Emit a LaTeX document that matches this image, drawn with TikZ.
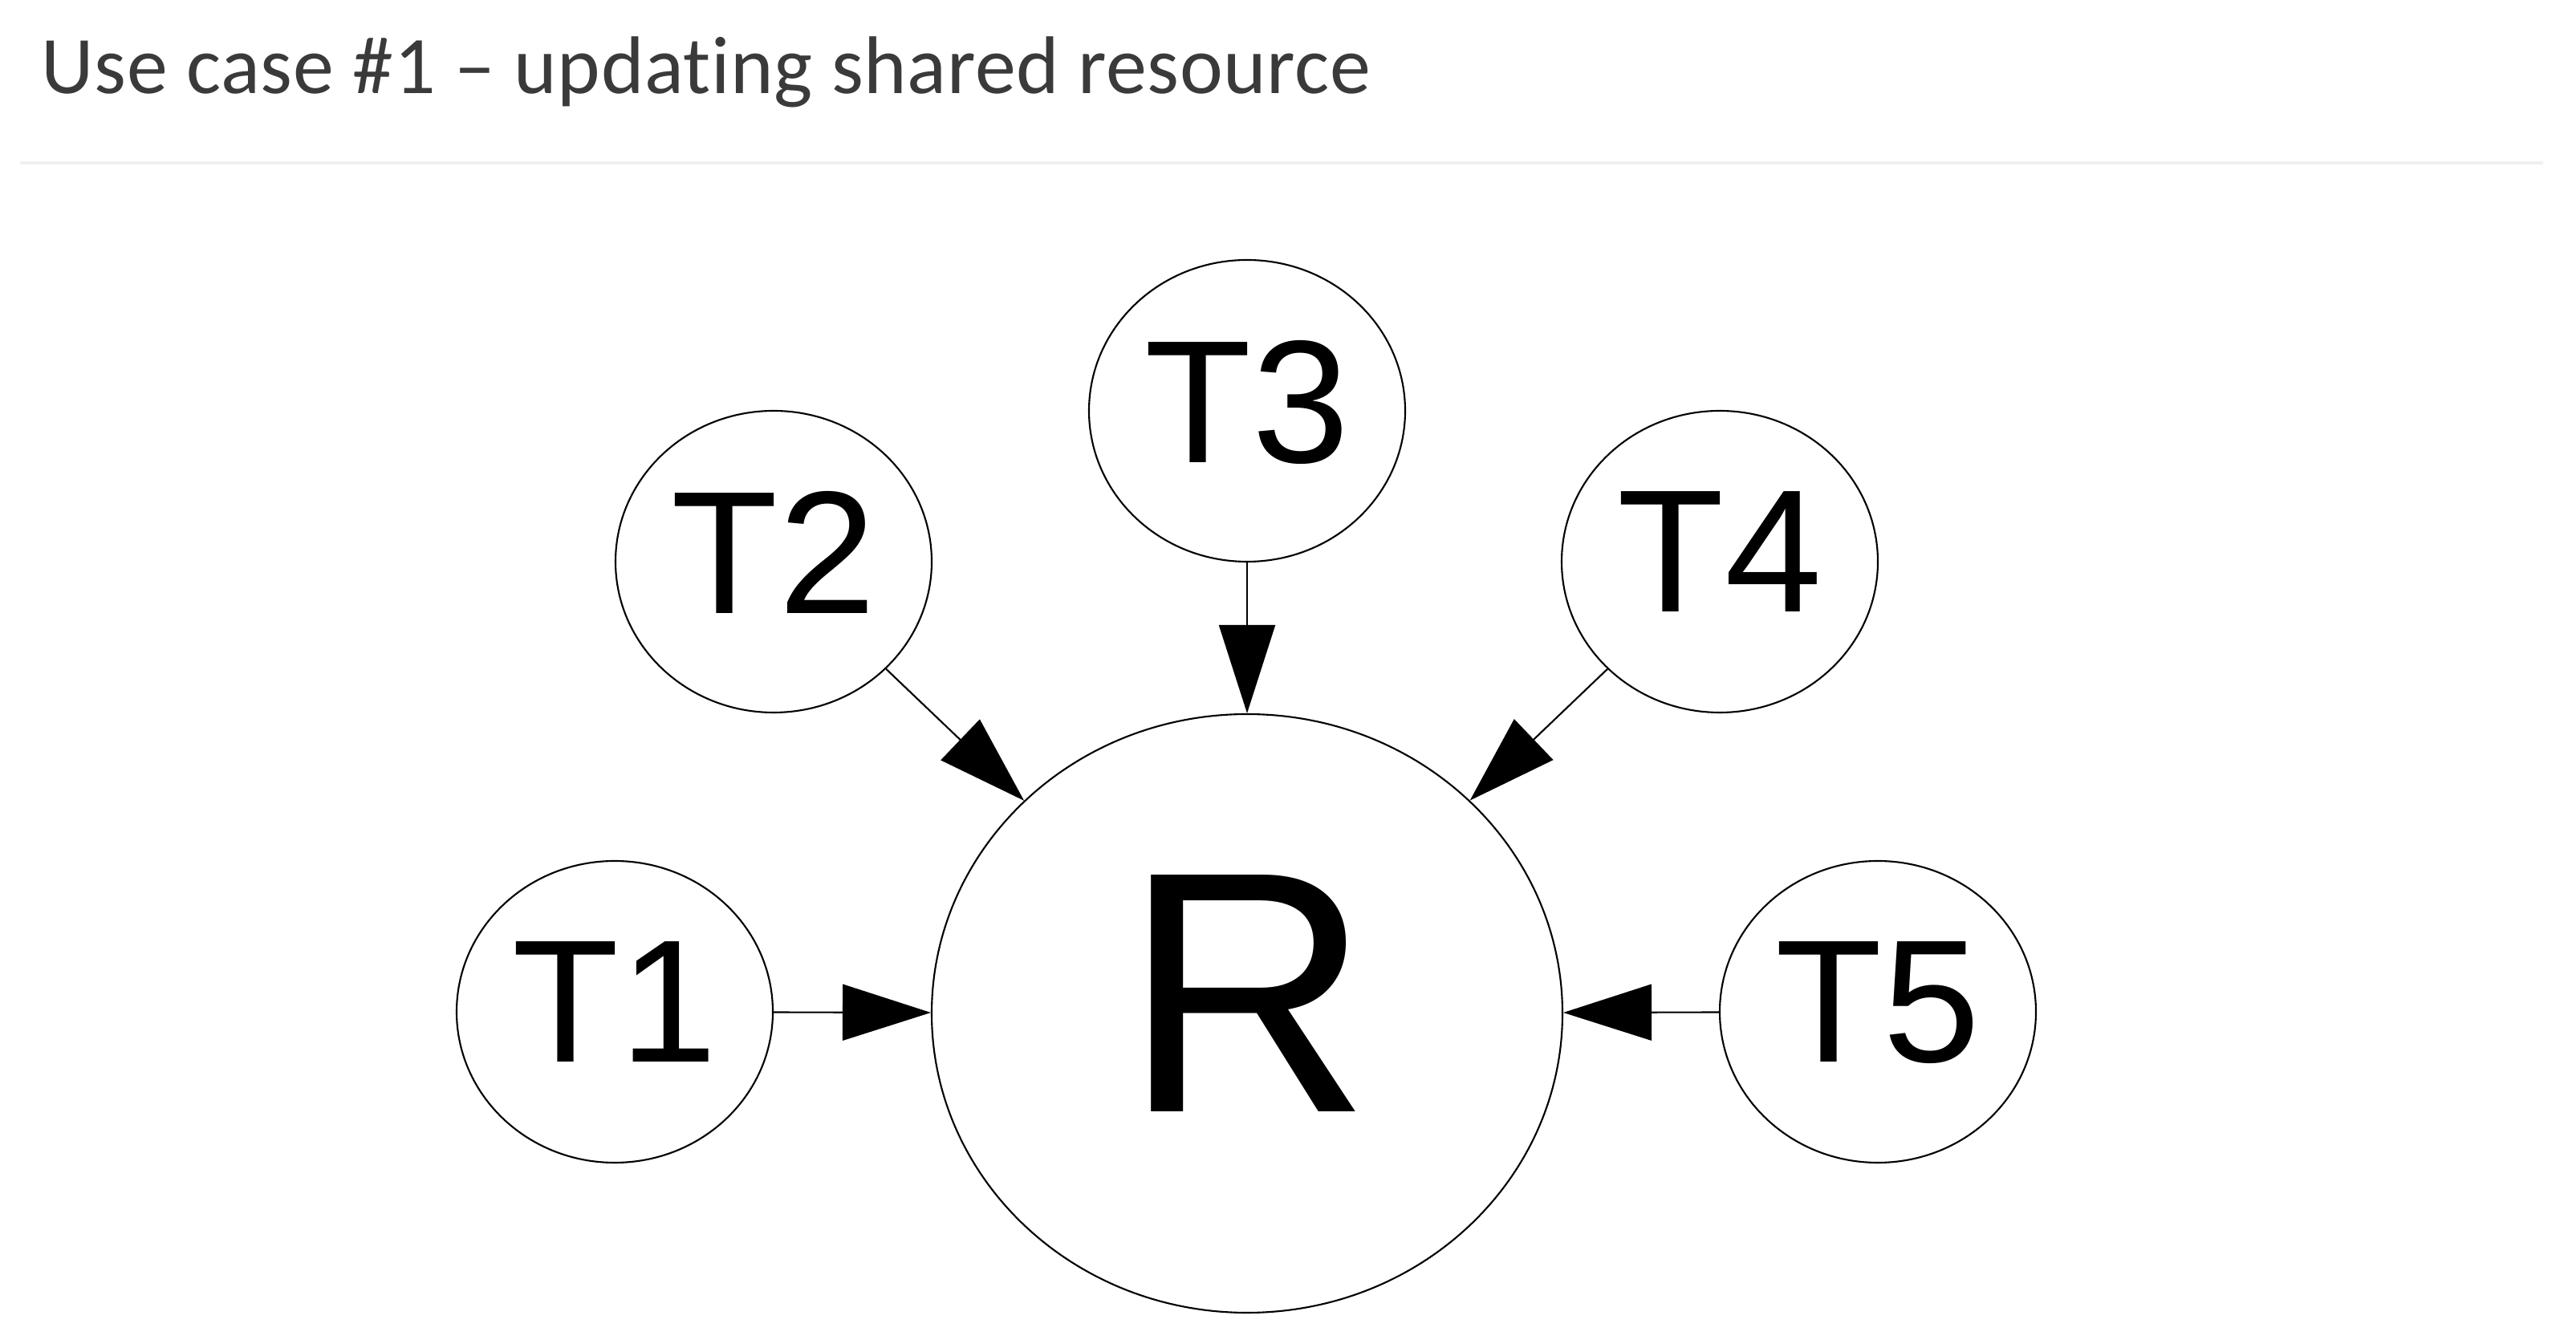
\documentclass[tikz,border=0pt]{standalone}
\usepackage{fontspec}
\setmainfont{Liberation Sans}
\newfontfamily\titlefont[Ligatures=NoCommon, LetterSpace=0.6]{Carlito}
\usetikzlibrary{arrows.meta,shapes.geometric,positioning}

\definecolor{titlegray}{HTML}{3A3A3A}
\definecolor{rulegray}{HTML}{F0F0F0}

\begin{document}
\begin{tikzpicture}[
  task/.style={draw, ellipse, line width=0.6pt, inner sep=0pt,
    minimum width=3.94cm, minimum height=3.76cm, text depth=0.24cm,
    font=\fontsize{62}{62}\selectfont},
  res/.style={draw, ellipse, line width=0.6pt, inner sep=0pt,
    minimum width=7.86cm, minimum height=7.46cm, text depth=0.5cm,
    font=\fontsize{122}{122}\selectfont},
  upd/.style={-{Triangle[length=1.1cm,width=0.7cm]}, line width=0.6pt}]

\useasboundingbox (0,0) rectangle (32.1,16.74);
%\draw [help lines, step=1cm](0,0) grid (32,16);

% heading
\node [anchor=base west, inner sep=0pt, text=titlegray,
  font=\titlefont\fontsize{29}{29}\selectfont] (title) at (0.51,15.57)
  {Use case \#1 – updating shared resource};
\draw [rulegray, line width=0.04cm] (0.25,14.71) -- (31.69,14.71);

% resource and tasks
\node [res] (r) at (15.54,4.11) {R};
\node [task] (t1) at (7.66,4.13) {T1};
\node [task] (t2) at (9.64,9.74) {T2};
\node [task] (t3) at (15.54,11.62) {T3};
\node [task] (t4) at (21.43,9.74) {T4};
\node [task] (t5) at (23.40,4.13) {T5};

\draw [upd] (t1) -- (r);
\draw [upd] (t2) -- (r);
\draw [upd] (t3) -- (r);
\draw [upd] (t4) -- (r);
\draw [upd] (t5) -- (r);

\end{tikzpicture}
\end{document}
